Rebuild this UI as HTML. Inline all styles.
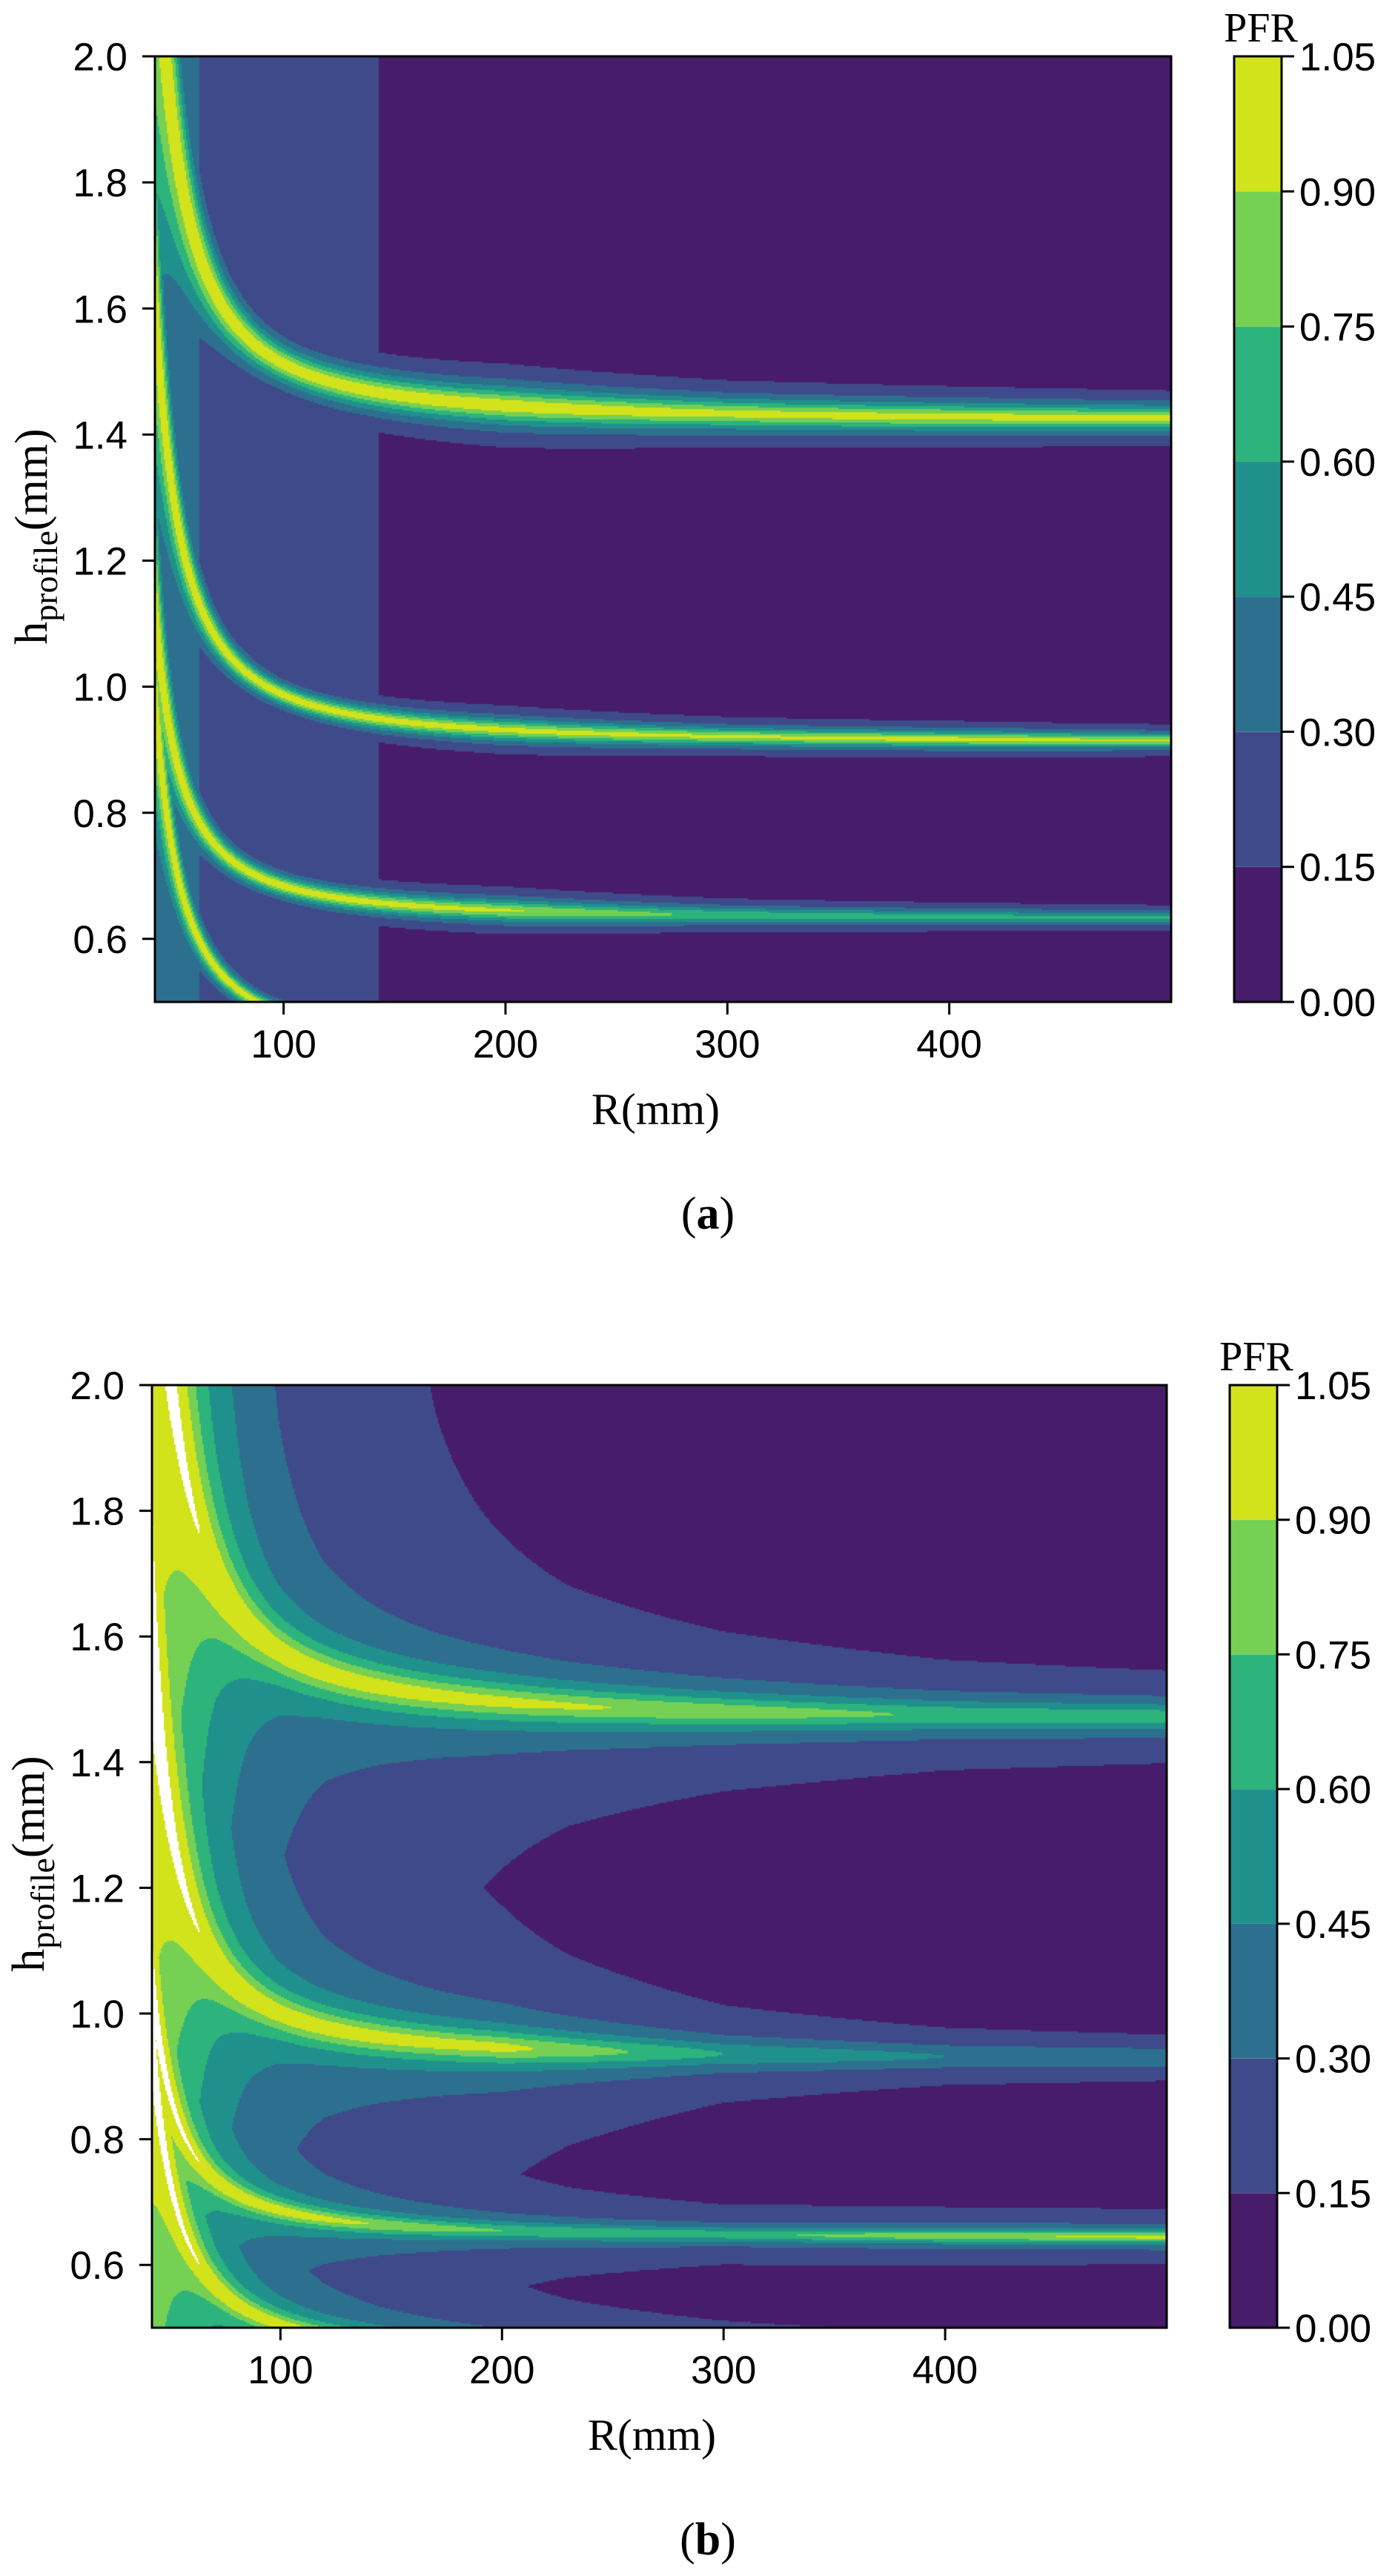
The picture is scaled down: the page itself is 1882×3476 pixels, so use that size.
<!DOCTYPE html>
<html>
<head>
<meta charset="utf-8">
<style>
  html,body{margin:0;padding:0;background:#fff;}
  #wrap{position:relative;width:1882px;height:3476px;overflow:hidden;background:#fff;}
  canvas{position:absolute;}
  svg{position:absolute;left:0;top:0;}
</style>
</head>
<body>
<div id="wrap">
  <canvas id="cvA"></canvas>
  <canvas id="cvB"></canvas>
  <canvas id="cbA"></canvas>
  <canvas id="cbB"></canvas>
  <svg id="ov" width="1882" height="3476" xmlns="http://www.w3.org/2000/svg"></svg>
</div>
<script>
// ---- data ----
const xTicks = [100, 200, 300, 400];
const yTicks = [0.6, 0.8, 1.0, 1.2, 1.4, 1.6, 1.8, 2.0];
const yTickLabels = ["0.6","0.8","1.0","1.2","1.4","1.6","1.8","2.0"];
const levels = [0, 0.15, 0.30, 0.45, 0.60, 0.75, 0.90, 1.05];
const levelLabels = ["0.00","0.15","0.30","0.45","0.60","0.75","0.90","1.05"];
const levelColors = ["#471c6a","#3e4a89","#2d6f8e","#20908c","#2db37c","#75d054","#d2e21b"];
const peakR = [42, 100, 200, 300, 400, 500];

// panel a
const bandAsymA = [1.42, 0.91, 0.63, 0.42];
const bandAmpA = [60, 50, 35, 40];
const bandWScaleA = [1, 0.6, 0.6, 0.5];
const peaksA1 = [1.0, 1.0, 1.0, 0.95, 0.95, 0.95];
const peaksA2 = [1.0, 1.0, 0.95, 0.92, 0.95, 0.9];
const peaksA3 = [1.0, 1.0, 0.92, 0.7, 0.65, 0.62];
const peaksA4 = [1.0, 1.0, 0.9, 0.8, 0.7, 0.6];
const bgRA = [42, 62, 62.01, 143, 143.01, 500];
const bgVA = [0.36, 0.36, 0.2, 0.2, 0.04, 0.04];
const wRA = [42, 100, 200, 300, 500];
const wVA = [0.028, 0.025, 0.028, 0.023, 0.019];

// panel b
const bandAsymB = [1.465, 0.925, 0.642, 0.45];
const bandAmpB = [72, 49, 29, 36];
const bandWScaleB = [1, 0.85, 0.45, 0.5];
const peaksB1 = [1.08, 1.0, 0.95, 0.85, 0.72, 0.7];
const peaksB2 = [1.08, 1.0, 0.95, 0.6, 0.45, 0.42];
const peaksB3 = [1.08, 1.0, 0.75, 0.7, 0.85, 0.95];
const peaksB4 = [1.08, 1.0, 0.8, 0.7, 0.6, 0.6];
const bgRB = [42, 50, 57, 64, 71, 85, 99, 120, 145, 170, 193, 230, 300, 400, 500];
const bgVB = [0.66, 0.61, 0.56, 0.49, 0.42, 0.33, 0.26, 0.2, 0.16, 0.13, 0.11, 0.08, 0.05, 0.03, 0.02];
const wRB = [42, 100, 200, 300, 500];
const wVB = [0.04, 0.035, 0.03, 0.026, 0.022];

const R0 = 25, P = 1.5;
const xMin = 42, xMax = 500, yMin = 0.5, yMax = 2.0;

function lin(xs, ys, x){
  if (x <= xs[0]) return ys[0];
  for (let i = 1; i < xs.length; i++){
    if (x <= xs[i]){ const t = (x - xs[i-1])/(xs[i]-xs[i-1]); return ys[i-1] + t*(ys[i]-ys[i-1]); }
  }
  return ys[ys.length-1];
}

const panels = [
  {id:'a', L:209, T:76, W:1371, H:1276, cbL:1665, cv:'cvA', cb:'cbA', mode:'max',
   asym:bandAsymA, amp:bandAmpA, ws:bandWScaleA, peaks:[peaksA1,peaksA2,peaksA3,peaksA4],
   bgR:bgRA, bgV:bgVA, wR:wRA, wV:wVA},
  {id:'b', L:205, T:1869, W:1369, H:1272, cbL:1659, cv:'cvB', cb:'cbB', mode:'blend',
   asym:bandAsymB, amp:bandAmpB, ws:bandWScaleB, peaks:[peaksB1,peaksB2,peaksB3,peaksB4],
   bgR:bgRB, bgV:bgVB, wR:wRB, wV:wVB}
];

function field(p, R, h){
  const bg = lin(p.bgR, p.bgV, R);
  let v = bg;
  const w0 = lin(p.wR, p.wV, R);
  const pyPerH = p.H/(yMax-yMin), pxPerR = p.W/(xMax-xMin);
  for (let k = 0; k < p.asym.length; k++){
    const dR = R - R0;
    const hc = p.asym[k] + p.amp[k]/Math.pow(dR, P);
    const slope = P*p.amp[k]/Math.pow(dR, P+1) * pyPerH/pxPerR;
    const w = w0*p.ws[k]*Math.sqrt(1+slope*slope);
    const d = (h-hc)/w;
    const pk = lin(peakR, p.peaks[k], R);
    if (p.mode === 'max'){
      v = Math.max(v, pk/(1+d*d));
    } else {
      const s = 0.82/(1+d*d) + 0.18/(1+(d/5)*(d/5));
      v = Math.max(v, bg + (pk-bg)*s);
    }
  }
  return v;
}

function colorFor(v){
  if (v >= 1.05) return '#ffffff';
  let i = Math.floor(v/0.15);
  if (i < 0) i = 0; if (i > 6) i = 6;
  return levelColors[i];
}

const NS = 'http://www.w3.org/2000/svg';
const ov = document.getElementById('ov');
function mk(tag, attrs, parent){
  const e = document.createElementNS(NS, tag);
  for (const k in attrs) e.setAttribute(k, attrs[k]);
  (parent||ov).appendChild(e);
  return e;
}

panels.forEach(p => {
  const xs = R => p.L + (R - xMin)/(xMax - xMin)*p.W;
  const ys = h => p.T + (yMax - h)/(yMax - yMin)*p.H;
  const cv = document.getElementById(p.cv);
  cv.width = p.W; cv.height = p.H;
  cv.style.left = p.L+'px'; cv.style.top = p.T+'px';
  const ctx = cv.getContext('2d');
  const step = 2;
  for (let py = 0; py < p.H; py += step){
    const h = yMax - (py+step/2)/p.H*(yMax-yMin);
    for (let px = 0; px < p.W; px += step){
      const R = xMin + (px+step/2)/p.W*(xMax-xMin);
      ctx.fillStyle = colorFor(field(p, R, h));
      ctx.fillRect(px, py, step, step);
    }
  }
  const cbW = 64;
  const cb = document.getElementById(p.cb);
  cb.width = cbW; cb.height = p.H;
  cb.style.left = p.cbL+'px'; cb.style.top = p.T+'px';
  const cctx = cb.getContext('2d');
  const cbY = v => p.H - (v - levels[0])/(levels[levels.length-1]-levels[0])*p.H;
  for (let i = 0; i < levelColors.length; i++){
    cctx.fillStyle = levelColors[i];
    const y1 = cbY(levels[i+1]), y0 = cbY(levels[i]);
    cctx.fillRect(0, y1, cbW, y0 - y1);
  }

  const g = mk('g', {});
  
  
  const fr = mk('rect', {x:p.L, y:p.T, width:p.W, height:p.H, fill:'none', stroke:'#000', 'stroke-width':3}, g);
  
  
  const cfr = mk('rect', {x:p.cbL, y:p.T, width:cbW, height:p.H, fill:'none', stroke:'#000', 'stroke-width':3}, g);
  
  
  xTicks.forEach(t => {
    const x = xs(t);
    const ln = mk('line', {x1:x, x2:x, y1:p.T+p.H, y2:p.T+p.H+17, stroke:'#000', 'stroke-width':3}, g);
    
    
    const tx = mk('text', {x:x, y:p.T+p.H+75, 'text-anchor':'middle', 'font-family':'Liberation Sans, sans-serif', 'font-size':53}, g);
    tx.textContent = String(t);
    
    
  });
  yTicks.forEach((t, i) => {
    const y = ys(t);
    const ln = mk('line', {x1:p.L-17, x2:p.L, y1:y, y2:y, stroke:'#000', 'stroke-width':3}, g);
    
    
    const tx = mk('text', {x:p.L-37, y:y+19, 'text-anchor':'end', 'font-family':'Liberation Sans, sans-serif', 'font-size':53}, g);
    tx.textContent = yTickLabels[i];
    
    
  });
  levels.forEach((v, i) => {
    const y = p.T + cbY(v);
    const ln = mk('line', {x1:p.cbL+cbW, x2:p.cbL+cbW+17, y1:y, y2:y, stroke:'#000', 'stroke-width':3}, g);
    
    
    const tx = mk('text', {x:p.cbL+cbW+24, y:y+19, 'font-family':'Liberation Sans, sans-serif', 'font-size':53}, g);
    tx.textContent = levelLabels[i];
    
    
  });
  const pfr = mk('text', {x:p.cbL+cbW/2+4, y:p.T-20, 'text-anchor':'middle', 'font-family':'Liberation Serif, serif', 'font-size':56}, g);
  pfr.textContent = 'PFR';
  
  
  const xl = mk('text', {x:p.L+p.W/2-10, y:p.T+p.H+165, 'text-anchor':'middle', 'font-family':'Liberation Serif, serif', 'font-size':60}, g);
  xl.textContent = 'R(mm)';
  
  
  const cy = p.T + p.H/2 + 10;
  const yl = mk('text', {x:0, y:0, 'text-anchor':'middle', 'font-family':'Liberation Serif, serif', 'font-size':62,
      transform:'translate('+(p.L-146)+','+cy+') rotate(-90)'}, g);
  
  
  const t1 = mk('tspan', {}, yl); t1.textContent = 'h';
  const t2 = mk('tspan', {'font-size':46, dy:14}, yl); t2.textContent = 'profile';
  const t3 = mk('tspan', {dy:-14}, yl); t3.textContent = '(mm)';
  const cap = mk('text', {x:955, y:p.T+p.H+306, 'text-anchor':'middle', 'font-family':'Liberation Serif, serif', 'font-size':62}, g);
  
  
  const c1 = mk('tspan', {}, cap); c1.textContent = '(';
  const c2 = mk('tspan', {'font-weight':'bold'}, cap); c2.textContent = p.id;
  const c3 = mk('tspan', {}, cap); c3.textContent = ')';
});
</script>
</body>
</html>
